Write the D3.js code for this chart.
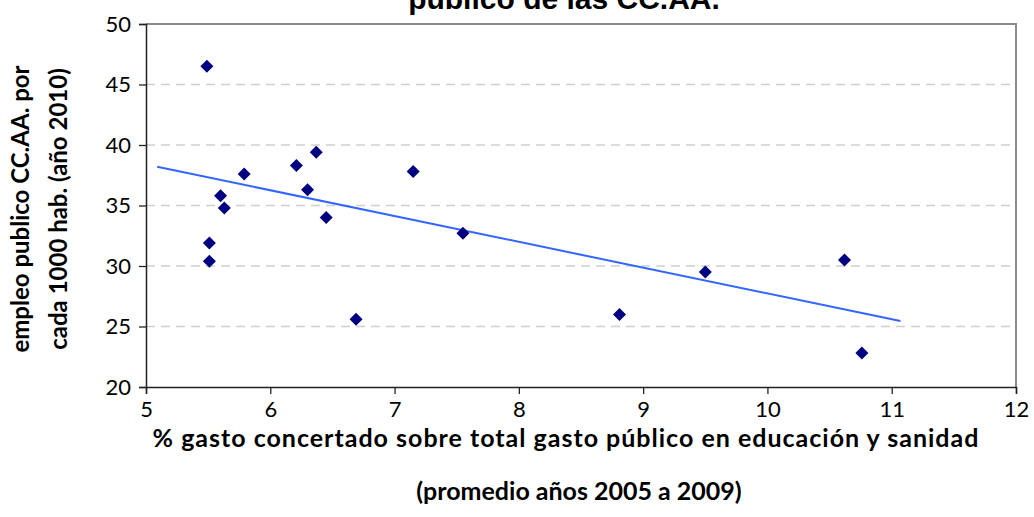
<html>
  <body style="margin:0;background:#fff">
    <script src="https://d3js.org/d3.v7.min.js"></script>
    <div id="main"></div>
    <script>
      // % gasto concertado (x) vs empleo publico por 1000 hab. (y), one per CC.AA.
      const gastoConcertado = [5.49, 5.51, 5.51, 5.6, 5.63, 5.79, 6.21, 6.3, 6.37, 6.45, 6.69, 7.15, 7.55, 8.81, 9.5, 10.62, 10.76];
      const empleoPublico = [46.5, 31.9, 30.4, 35.8, 34.8, 37.6, 38.3, 36.3, 39.4, 34.0, 25.6, 37.8, 32.7, 26.0, 29.5, 30.5, 22.8];
      const xTicks = [5, 6, 7, 8, 9, 10, 11, 12];
      const yTicks = [20, 25, 30, 35, 40, 45, 50];
      // linear trend line, ends
      const trendX = [5.09, 11.07];
      const trendY = [38.2, 25.45];

      const W = 1034, H = 517;
      const mLeft = 146, mRight = 1016, mTop = 24, mBottom = 387;

      const svg = d3.select("#main").append("svg")
        .attr("width", W).attr("height", H)
        .style("display", "block");

      const x = d3.scaleLinear().domain([5, 12]).range([mLeft, mRight]);
      const y = d3.scaleLinear().domain([20, 50]).range([mBottom, mTop]);

      // gridlines
      svg.append("g").selectAll("line")
        .data(yTicks.filter(d => d > 20 && d < 50))
        .join("line")
        .attr("x1", mLeft).attr("x2", mRight)
        .attr("y1", d => y(d)).attr("y2", d => y(d))
        .attr("stroke", "#cfcfcf")
        .attr("stroke-width", 1.3)
        .attr("stroke-dasharray", "9,6");

      // plot frame (top / right grey)
      svg.append("path")
        .attr("d", `M${mLeft},${mTop}H${mRight}V${mBottom}`)
        .attr("fill", "none").attr("stroke", "#8a8a8a").attr("stroke-width", 2);

      const font = "Lato, 'Gill Sans', sans-serif";

      const xAxis = svg.append("g")
        .attr("transform", `translate(0,${mBottom})`)
        .call(d3.axisBottom(x).tickValues(xTicks).tickFormat(d3.format("d")).tickSize(7).tickPadding(7));
      const yAxis = svg.append("g")
        .attr("transform", `translate(${mLeft},0)`)
        .call(d3.axisLeft(y).tickValues(yTicks).tickFormat(d3.format("d")).tickSize(7).tickPadding(8));
      [xAxis, yAxis].forEach(g => {
        g.attr("font-family", font).attr("font-size", 22);
        g.select(".domain").attr("stroke", "#222").attr("stroke-width", 1.5);
        g.selectAll(".tick line").attr("stroke", "#222").attr("stroke-width", 1.3);
        g.selectAll("text").attr("fill", "#000");
      });

      // trend line
      svg.append("line")
        .attr("x1", x(trendX[0])).attr("y1", y(trendY[0]))
        .attr("x2", x(trendX[1])).attr("y2", y(trendY[1]))
        .attr("stroke", "#3366ff").attr("stroke-width", 2);

      // points
      svg.append("g").selectAll("path")
        .data(d3.range(gastoConcertado.length))
        .join("path")
        .attr("transform", i => `translate(${x(gastoConcertado[i])},${y(empleoPublico[i])})`)
        .attr("d", "M0,-6.5L6.5,0L0,6.5L-6.5,0Z")
        .attr("fill", "#000080");

      // title (only last line visible)
      svg.append("text")
        .attr("x", 564).attr("y", 9)
        .attr("text-anchor", "middle")
        .attr("font-family", "'Liberation Sans', Arial, sans-serif")
        .attr("font-weight", "bold").attr("font-size", 30)
        .text("público de las CC.AA.");

      // x axis title
      svg.append("text")
        .attr("x", 566).attr("y", 447)
        .attr("text-anchor", "middle")
        .attr("font-family", font).attr("font-weight", "bold").attr("font-size", 25)
        .attr("letter-spacing", 1)
        .text("% gasto concertado sobre total gasto público en educación y sanidad");
      svg.append("text")
        .attr("x", 579).attr("y", 500)
        .attr("text-anchor", "middle")
        .attr("font-family", font).attr("font-weight", "bold").attr("font-size", 25)
        .text("(promedio años 2005 a 2009)");

      // y axis title
      const yt = svg.append("text")
        .attr("transform", "translate(0,209) rotate(-90)")
        .attr("text-anchor", "middle")
        .attr("font-family", font).attr("font-weight", "bold").attr("font-size", 24);
      yt.append("tspan").attr("x", 0).attr("y", 29).text("empleo publico CC.AA. por");
      yt.append("tspan").attr("x", 0).attr("y", 67).text("cada 1000 hab. (año 2010)");
    </script>
  </body>
</html>
